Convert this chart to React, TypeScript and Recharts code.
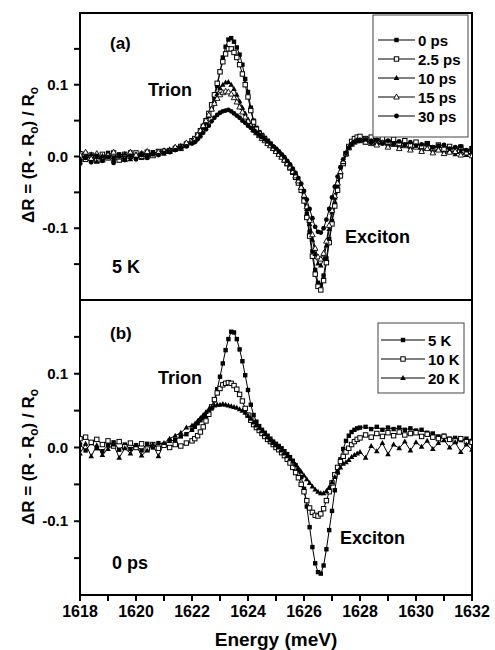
import { LineChart, Line, XAxis, YAxis, ReferenceArea } from 'recharts'

// photon energy (meV); denser sampling across the trion / exciton features
const energy = [
  1618, 1618.2, 1618.4, 1618.6, 1618.8, 1619, 1619.2, 1619.4, 1619.6, 1619.8, 1620, 1620.2, 1620.4, 1620.6, 1620.8, 1621, 1621.2, 1621.4, 1621.6, 1621.8, 1622,
  1622.1, 1622.2, 1622.3, 1622.4, 1622.5, 1622.6, 1622.7, 1622.8, 1622.9,
  1623, 1623.1, 1623.2, 1623.3, 1623.4, 1623.5, 1623.6, 1623.7, 1623.8, 1623.9,
  1624, 1624.1, 1624.2, 1624.3, 1624.4, 1624.5, 1624.6, 1624.7, 1624.8, 1624.9,
  1625, 1625.1, 1625.2, 1625.3, 1625.4, 1625.5, 1625.6, 1625.7, 1625.8, 1625.9,
  1626, 1626.1, 1626.2, 1626.3, 1626.4, 1626.5, 1626.6, 1626.7, 1626.8, 1626.9,
  1627, 1627.1, 1627.2, 1627.3, 1627.4, 1627.5, 1627.6, 1627.7, 1627.8, 1627.9,
  1628, 1628.2, 1628.4, 1628.6, 1628.8, 1629, 1629.2, 1629.4, 1629.6, 1629.8, 1630, 1630.2, 1630.4, 1630.6, 1630.8, 1631, 1631.2, 1631.4, 1631.6, 1631.8, 1632,
]

// panel (a): 5 K, different delays
const ps0 = [
  -0.006, 0.004, -0.005, 0.002, -0.004, 0.005, -0.002, 0.003, -0.003, 0.006, 0.0, 0.004, 0.001, 0.006, 0.003, 0.008, 0.009, 0.012, 0.014, 0.018, 0.021,
  0.024, 0.028, 0.034, 0.04, 0.048, 0.057, 0.068, 0.082, 0.098,
  0.118, 0.138, 0.153, 0.163, 0.165, 0.16, 0.152, 0.142, 0.128, 0.108,
  0.09, 0.068, 0.05, 0.04, 0.034, 0.03, 0.026, 0.022, 0.018, 0.013,
  0.009, 0.005, 0.001, -0.004, -0.009, -0.014, -0.02, -0.027, -0.035, -0.045,
  -0.058, -0.08, -0.105, -0.132, -0.158, -0.176, -0.179, -0.166, -0.142, -0.115,
  -0.09, -0.066, -0.045, -0.026, -0.01, 0.003, 0.013, 0.019, 0.023, 0.025,
  0.025, 0.022, 0.024, 0.02, 0.023, 0.019, 0.022, 0.017, 0.02, 0.016, 0.019, 0.014, 0.017, 0.012, 0.015, 0.01, 0.013, 0.008, 0.011, 0.006, 0.009,
]
const ps25 = [
  0.004, -0.004, 0.002, -0.006, 0.003, -0.002, 0.005, -0.005, 0.003, 0.0, 0.005, -0.001, 0.006, 0.002, 0.007, 0.007, 0.008, 0.011, 0.014, 0.017, 0.022,
  0.025, 0.03, 0.036, 0.042, 0.05, 0.06, 0.072, 0.086, 0.102,
  0.118, 0.132, 0.143, 0.15, 0.15, 0.145, 0.138, 0.128, 0.115, 0.1,
  0.083, 0.064, 0.048, 0.038, 0.032, 0.028, 0.024, 0.02, 0.016, 0.012,
  0.008, 0.004, 0.0, -0.005, -0.01, -0.016, -0.022, -0.029, -0.037, -0.047,
  -0.062, -0.085, -0.111, -0.139, -0.164, -0.181, -0.186, -0.173, -0.148, -0.12,
  -0.094, -0.069, -0.047, -0.027, -0.01, 0.004, 0.014, 0.021, 0.025, 0.027,
  0.028, 0.025, 0.027, 0.022, 0.025, 0.02, 0.024, 0.018, 0.022, 0.016, 0.02, 0.014, 0.018, 0.012, 0.016, 0.01, 0.014, 0.009, 0.013, 0.007, 0.011,
]
const ps10 = [
  -0.008, 0.0, 0.003, -0.007, 0.001, 0.003, -0.006, 0.002, 0.004, -0.004, 0.003, 0.005, -0.001, 0.005, 0.006, 0.004, 0.01, 0.009, 0.015, 0.015, 0.02,
  0.022, 0.027, 0.033, 0.04, 0.047, 0.056, 0.066, 0.077, 0.087,
  0.095, 0.1, 0.103, 0.104, 0.1, 0.094, 0.086, 0.077, 0.068, 0.06,
  0.052, 0.045, 0.039, 0.034, 0.03, 0.026, 0.023, 0.019, 0.016, 0.012,
  0.008, 0.004, 0.0, -0.004, -0.009, -0.014, -0.02, -0.026, -0.034, -0.043,
  -0.055, -0.073, -0.094, -0.116, -0.136, -0.149, -0.152, -0.143, -0.124, -0.101,
  -0.078, -0.057, -0.039, -0.022, -0.008, 0.004, 0.012, 0.018, 0.021, 0.023,
  0.023, 0.019, 0.022, 0.016, 0.02, 0.015, 0.017, 0.012, 0.016, 0.01, 0.014, 0.008, 0.012, 0.006, 0.011, 0.004, 0.009, 0.003, 0.007, 0.002, 0.006,
]
const ps15 = [
  0.002, 0.006, -0.003, 0.004, -0.005, 0.002, 0.006, -0.001, -0.004, 0.006, 0.002, 0.0, 0.007, 0.001, 0.006, 0.008, 0.007, 0.013, 0.011, 0.019, 0.021,
  0.024, 0.03, 0.036, 0.043, 0.05, 0.058, 0.066, 0.074, 0.081,
  0.086, 0.089, 0.091, 0.09, 0.087, 0.082, 0.076, 0.069, 0.062, 0.055,
  0.049, 0.043, 0.037, 0.033, 0.029, 0.025, 0.022, 0.018, 0.015, 0.011,
  0.007, 0.003, -0.001, -0.005, -0.01, -0.015, -0.021, -0.027, -0.034, -0.043,
  -0.054, -0.07, -0.089, -0.109, -0.128, -0.14, -0.143, -0.135, -0.118, -0.096,
  -0.075, -0.055, -0.037, -0.021, -0.007, 0.004, 0.012, 0.017, 0.02, 0.022,
  0.022, 0.02, 0.018, 0.016, 0.019, 0.013, 0.017, 0.011, 0.015, 0.009, 0.013, 0.007, 0.011, 0.005, 0.009, 0.004, 0.006, 0.007, 0.002, 0.005, 0.001,
]
const ps30 = [
  -0.01, -0.002, -0.008, 0.001, -0.006, -0.001, -0.009, 0.0, -0.005, 0.001, -0.004, 0.002, -0.002, 0.003, 0.002, 0.005, 0.006, 0.009, 0.011, 0.014, 0.018,
  0.02, 0.024, 0.028, 0.033, 0.038, 0.043, 0.049, 0.054, 0.058,
  0.061, 0.063, 0.064, 0.065, 0.063, 0.06, 0.057, 0.054, 0.05, 0.047,
  0.043, 0.04, 0.036, 0.033, 0.03, 0.027, 0.024, 0.021, 0.018, 0.014,
  0.011, 0.007, 0.003, -0.001, -0.006, -0.011, -0.017, -0.023, -0.03, -0.038,
  -0.048, -0.06, -0.073, -0.086, -0.098, -0.105, -0.106, -0.1, -0.088, -0.073,
  -0.057, -0.042, -0.028, -0.015, -0.004, 0.005, 0.012, 0.017, 0.02, 0.022,
  0.022, 0.024, 0.019, 0.023, 0.018, 0.022, 0.017, 0.021, 0.016, 0.02, 0.015, 0.017, 0.018, 0.013, 0.015, 0.016, 0.011, 0.013, 0.014, 0.009, 0.011,
]

// panel (b): 0 ps, different temperatures
const k5 = [
  0.004, -0.004, 0.006, -0.001, -0.005, 0.003, 0.007, -0.003, 0.004, -0.002, 0.003, -0.004, 0.005, 0.0, 0.006, 0.004, 0.009, 0.01, 0.015, 0.018, 0.024,
  0.028, 0.033, 0.037, 0.04, 0.043, 0.047, 0.053, 0.064, 0.079,
  0.096, 0.114, 0.132, 0.147, 0.157, 0.156, 0.147, 0.133, 0.117, 0.098,
  0.078, 0.058, 0.044, 0.035, 0.029, 0.024, 0.02, 0.016, 0.012, 0.008,
  0.005, 0.002, -0.001, -0.005, -0.009, -0.013, -0.018, -0.024, -0.031, -0.04,
  -0.056, -0.08, -0.108, -0.135, -0.157, -0.169, -0.171, -0.16, -0.138, -0.112,
  -0.086, -0.058, -0.034, -0.016, -0.002, 0.009, 0.016, 0.021, 0.024, 0.026,
  0.027, 0.028, 0.025, 0.028, 0.024, 0.027, 0.025, 0.027, 0.024, 0.026, 0.023, 0.024, 0.02, 0.019, 0.015, 0.016, 0.012, 0.013, 0.01, 0.012, 0.009,
]
const k10 = [
  0.012, 0.014, 0.007, 0.011, 0.004, 0.009, 0.002, 0.008, 0.001, 0.006, 0.0, 0.005, -0.002, 0.004, -0.001, 0.003, 0.0, 0.004, 0.002, 0.006, 0.009,
  0.012, 0.016, 0.021, 0.028, 0.036, 0.045, 0.055, 0.065, 0.074,
  0.08, 0.085, 0.087, 0.088, 0.087, 0.084, 0.079, 0.072, 0.063, 0.053,
  0.044, 0.037, 0.031, 0.027, 0.023, 0.019, 0.015, 0.011, 0.008, 0.004,
  0.0, -0.003, -0.007, -0.011, -0.016, -0.021, -0.027, -0.034, -0.041, -0.05,
  -0.06, -0.072, -0.082, -0.088, -0.092, -0.093, -0.09, -0.083, -0.072, -0.06,
  -0.048, -0.037, -0.027, -0.019, -0.012, -0.006, -0.001, 0.004, 0.008, 0.011,
  0.013, 0.017, 0.014, 0.019, 0.015, 0.02, 0.016, 0.021, 0.017, 0.019, 0.02, 0.015, 0.018, 0.014, 0.012, 0.015, 0.011, 0.009, 0.012, 0.008, 0.007,
]
const k20 = [
  -0.008, 0.005, -0.012, 0.003, -0.01, -0.002, 0.004, -0.014, -0.001, -0.008, 0.003, -0.011, -0.004, 0.004, -0.012, 0.006, 0.012, 0.016, 0.02, 0.027, 0.03,
  0.032, 0.036, 0.04, 0.044, 0.048, 0.052, 0.055, 0.057, 0.058,
  0.058, 0.059, 0.058, 0.057, 0.056, 0.055, 0.054, 0.052, 0.05, 0.047,
  0.043, 0.039, 0.034, 0.03, 0.026, 0.022, 0.018, 0.014, 0.01, 0.006,
  0.003, 0.0, -0.004, -0.008, -0.012, -0.015, -0.019, -0.023, -0.028, -0.033,
  -0.038, -0.043, -0.048, -0.053, -0.057, -0.06, -0.062, -0.062, -0.059, -0.054,
  -0.047, -0.04, -0.033, -0.027, -0.022, -0.02, -0.017, -0.013, -0.01, -0.008,
  -0.006, -0.014, 0.002, -0.005, 0.006, -0.009, 0.004, -0.001, 0.008, -0.004, 0.007, 0.001, 0.009, -0.002, 0.006, 0.01, 0.0, 0.007, -0.006, 0.004, -0.003,
]

const delayLabels = ['0 ps', '2.5 ps', '10 ps', '15 ps', '30 ps']
const tempLabels = ['5 K', '10 K', '20 K']
const energyTicks = [1618, 1619, 1620, 1621, 1622, 1623, 1624, 1625, 1626, 1627, 1628, 1629, 1630, 1631, 1632]
const yTicks = [-0.15, -0.1, -0.05, 0, 0.05, 0.1, 0.15]
const yMajor = [-0.1, 0, 0.1]

type Shape = 'square' | 'openSquare' | 'triangle' | 'openTriangle' | 'circle'
const delayShapes: Shape[] = ['square', 'openSquare', 'triangle', 'openTriangle', 'circle']
const tempShapes: Shape[] = ['square', 'openSquare', 'triangle']

const delaySeries = [ps0, ps25, ps10, ps15, ps30]
const tempSeries = [k5, k10, k20]

const rowsA = energy.map((e, i) => {
  const row: Record<string, number> = { e }
  delaySeries.forEach((s, j) => (row[`s${j}`] = s[i]))
  return row
})
const rowsB = energy.map((e, i) => {
  const row: Record<string, number> = { e }
  tempSeries.forEach((s, j) => (row[`s${j}`] = s[i]))
  return row
})

const FONT = '"Liberation Sans", Arial, Helvetica, sans-serif'
const TICK = 6
const GAP = 6

const Marker = ({ cx, cy, shape }: { cx: number; cy: number; shape: Shape }) => {
  if (cx == null || cy == null) return <g />
  switch (shape) {
    case 'square':
      return <rect x={cx - 2.2} y={cy - 2.2} width={4.4} height={4.4} fill="#000" />
    case 'openSquare':
      return <rect x={cx - 2.2} y={cy - 2.2} width={4.4} height={4.4} fill="#fff" stroke="#000" strokeWidth={1} />
    case 'triangle':
      return <polygon points={`${cx},${cy - 3} ${cx - 2.8},${cy + 2} ${cx + 2.8},${cy + 2}`} fill="#000" />
    case 'openTriangle':
      return <polygon points={`${cx},${cy - 3} ${cx - 2.8},${cy + 2} ${cx + 2.8},${cy + 2}`} fill="#fff" stroke="#000" strokeWidth={0.9} />
    default:
      return <circle cx={cx} cy={cy} r={2.4} fill="#000" />
  }
}

const renderDot = (shape: Shape) => (p: any) => (
  <Marker key={`${shape}-${p.index}`} cx={p.cx} cy={p.cy} shape={shape} />
)

// left axis: the label sits at (axis - TICK - GAP); the tick mark is drawn with it
const YTick = ({ x, y, payload }: any) => {
  const v = payload.value
  const major = yMajor.some((m) => Math.abs(m - v) < 1e-9)
  return (
    <g>
      <line x1={x + GAP} x2={x + GAP + TICK} y1={y} y2={y} stroke="#000" strokeWidth={2} />
      {major && (
        <text x={x} y={y} dy={5} textAnchor="end" fill="#000" fontFamily={FONT} fontWeight={700} fontSize={15}>
          {v.toFixed(1)}
        </text>
      )}
    </g>
  )
}

const XTick = ({ x, y, payload }: any) => (
  <g>
    <line x1={x} x2={x} y1={y - 2 - TICK} y2={y - 2} stroke="#000" strokeWidth={2} />
    {payload.value % 2 === 0 && (
      <text x={x} y={y} dy={14} textAnchor="middle" fill="#000" fontFamily={FONT} fontWeight={700} fontSize={16}>
        {payload.value}
      </text>
    )}
  </g>
)

// inward ticks hanging from the shared border between the panels
const TopTick = ({ x, y }: any) => (
  <line x1={x} x2={x} y1={y - TICK} y2={y + 1} stroke="#000" strokeWidth={2} />
)

const YTitle = ({ cx, cy }: { cx: number; cy: number }) => (
  <text
    transform={`translate(${cx},${cy}) rotate(-90)`}
    textAnchor="middle"
    fill="#000"
    fontFamily={FONT}
    fontWeight={700}
    fontSize={17}
    dy={6}
  >
    ΔR = (R - R<tspan dy={4} fontSize={12}>o</tspan>
    <tspan dy={-4}>) / R</tspan>
    <tspan dy={4} fontSize={12}>o</tspan>
  </text>
)

const LegendBox = ({ x, y, w, h, labels, shapes, lineX1, lineX2, textX, rowY }: any) => (
  <g>
    <rect x={x} y={y} width={w} height={h} fill="#fff" stroke="#444" strokeWidth={1} />
    {labels.map((lab: string, i: number) => {
      const cy = rowY + i * 19
      return (
        <g key={lab}>
          <line x1={lineX1} x2={lineX2} y1={cy} y2={cy} stroke="#000" strokeWidth={1.2} />
          <Marker cx={(lineX1 + lineX2) / 2} cy={cy} shape={shapes[i]} />
          <text x={textX} y={cy + 5.5} fill="#000" fontFamily={FONT} fontWeight={700} fontSize={15}>
            {lab}
          </text>
        </g>
      )
    })}
  </g>
)

const Note = ({ x, y, children, size = 18 }: any) => (
  <text x={x} y={y} fill="#000" fontFamily={FONT} fontWeight={700} fontSize={size}>
    {children}
  </text>
)

const frame = (
  <ReferenceArea
    x1={1618}
    x2={1632}
    y1={-0.2}
    y2={0.2}
    fill="none"
    fillOpacity={0}
    stroke="#000"
    strokeWidth={2}
    ifOverflow="visible"
  />
)

const App = () => (
  <div style={{ position: 'absolute', left: 0, top: 0, width: 495, height: 650, background: '#fff' }}>
    <div style={{ position: 'absolute', left: 0, top: 0 }}>
      <LineChart width={495} height={300} data={rowsA} margin={{ top: 13, right: 23, bottom: 0, left: 0 }}>
        <XAxis dataKey="e" type="number" domain={[1618, 1632]} ticks={energyTicks} hide allowDataOverflow />
        <YAxis
          type="number"
          domain={[-0.2, 0.2]}
          ticks={yTicks}
          interval={0}
          width={80}
          axisLine={false}
          tickLine={false}
          tickSize={TICK}
          tickMargin={GAP}
          tick={(p: any) => <YTick {...p} />}
          allowDataOverflow
        />
        {frame}
        {delayShapes.map((shape, j) => (
          <Line
            key={delayLabels[j]}
            dataKey={`s${j}`}
            stroke="#000"
            strokeWidth={1}
            dot={renderDot(shape)}
            activeDot={false}
            isAnimationActive={false}
          />
        ))}
      </LineChart>
    </div>
    <div style={{ position: 'absolute', left: 0, top: 300 }}>
      <LineChart width={495} height={350} data={rowsB} margin={{ top: 0, right: 23, bottom: 0, left: 0 }}>
        <XAxis
          dataKey="e"
          type="number"
          domain={[1618, 1632]}
          ticks={energyTicks}
          interval={0}
          height={55}
          axisLine={false}
          tickLine={false}
          tickSize={TICK}
          tickMargin={2}
          tick={(p: any) => <XTick {...p} />}
          label={{ value: 'Energy (meV)', position: 'insideBottom', offset: 4, fill: '#000', fontSize: 19, fontWeight: 700, fontFamily: FONT }}
          allowDataOverflow
        />
        <XAxis
          xAxisId="top"
          orientation="top"
          dataKey="e"
          type="number"
          domain={[1618, 1632]}
          ticks={energyTicks}
          interval={0}
          height={0}
          mirror
          axisLine={false}
          tickLine={false}
          tickSize={TICK}
          tickMargin={0}
          tick={(p: any) => <TopTick {...p} />}
        />
        <YAxis
          type="number"
          domain={[-0.2, 0.2]}
          ticks={yTicks}
          interval={0}
          width={80}
          axisLine={false}
          tickLine={false}
          tickSize={TICK}
          tickMargin={GAP}
          tick={(p: any) => <YTick {...p} />}
          allowDataOverflow
        />
        {frame}
        {tempShapes.map((shape, j) => (
          <Line
            key={tempLabels[j]}
            dataKey={`s${j}`}
            stroke="#000"
            strokeWidth={1}
            dot={renderDot(shape)}
            activeDot={false}
            isAnimationActive={false}
          />
        ))}
      </LineChart>
    </div>
    <svg width={495} height={650} style={{ position: 'absolute', left: 0, top: 0, pointerEvents: 'none' }}>
      <YTitle cx={28} cy={155} />
      <YTitle cx={28} cy={457} />
      <Note x={110} y={49} size={17}>(a)</Note>
      <Note x={148} y={96}>Trion</Note>
      <Note x={345} y={243}>Exciton</Note>
      <Note x={112} y={273}>5 K</Note>
      <Note x={110} y={339} size={17}>(b)</Note>
      <Note x={158} y={384}>Trion</Note>
      <Note x={340} y={544}>Exciton</Note>
      <Note x={112} y={569}>0 ps</Note>
      <LegendBox x={373} y={15} w={95} h={122} labels={delayLabels} shapes={delayShapes} lineX1={378} lineX2={415} textX={418} rowY={40} />
      <LegendBox x={378} y={323} w={86} h={70} labels={tempLabels} shapes={tempShapes} lineX1={381} lineX2={425} textX={428} rowY={340} />
    </svg>
  </div>
)

export default App
